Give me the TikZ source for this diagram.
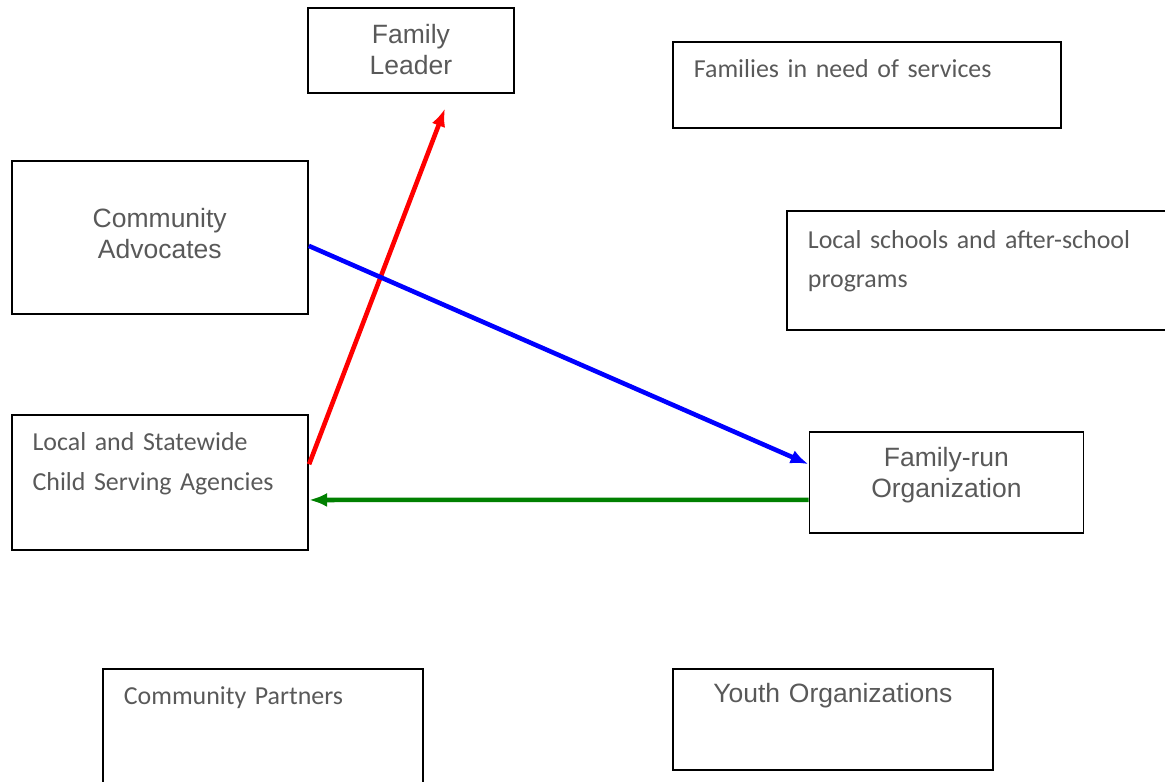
\documentclass[tikz,border=0pt]{standalone}
\usepackage{fontspec}
\usepackage{xcolor}
\usetikzlibrary{arrows.meta}
\newfontfamily\arialfont{Liberation Sans}
\newfontfamily\calibrifont{Carlito}
\definecolor{textgray}{RGB}{89,89,89}
\definecolor{linkgreen}{RGB}{0,128,0}

\begin{document}
\begin{tikzpicture}[x=1pt,y=-1pt,
  >={Latex[length=18pt,width=14pt]},
  box/.style={draw,line width=1.8pt,anchor=north west,inner ysep=0pt,text=textgray},
  arialtxt/.style={font=\arialfont\fontsize{26.5}{30.6}\selectfont,align=center,inner xsep=5pt},
  calibritxt/.style={font=\calibrifont\fontsize{25.9}{39.3}\selectfont,align=left,inner xsep=21pt},
  link/.style={->,line width=4.6pt}]
\useasboundingbox (0,0) rectangle (1165,782);

\node[box,arialtxt,text width=195.4pt,text height=35.4pt,text depth=49.6pt] (leader) at (307.3,7.3) {Family\\Leader};
\node[box,calibritxt,text width=346pt,text height=35.7pt,text depth=50pt] (needs) at (672,41) {Families in need of services};
\node[box,arialtxt,text width=286.3pt,text height=66.7pt,text depth=86pt] (advocates) at (10.7,160) {Community\\Advocates};
\node[box,calibritxt,text width=358pt,text height=37pt,text depth=82pt] (schools) at (786,210.3) {Local schools and after-school\\programs};
\node[box,calibritxt,text width=254.6pt,text height=36pt,text depth=99.3pt] (agency) at (10.7,414) {Local and Statewide\\Child Serving Agencies};
\node[box,arialtxt,text width=264pt,text height=35.3pt,text depth=66.3pt] (frun) at (808.5,430.7) {Family-run\\Organization};
\node[box,calibritxt,text width=278pt,text height=35.6pt,text depth=94.4pt] (partners) at (102,667.7) {Community Partners};
\node[box,arialtxt,text width=310pt,text height=34pt,text depth=67.6pt] (youth) at (672,667.7) {Youth Organizations};

\coordinate (leadtip) at (445,108.5);

\draw [link,red] ([yshift=18.3pt]agency.east) -- (leadtip);
\draw [link,blue] ([yshift=-8.6pt]advocates.east) -- ([yshift=18.2pt]frun.west);
\draw [link,linkgreen] ([yshift=-17.4pt]frun.west) -- ([yshift=-17.4pt]agency.east);
\end{tikzpicture}
\end{document}
